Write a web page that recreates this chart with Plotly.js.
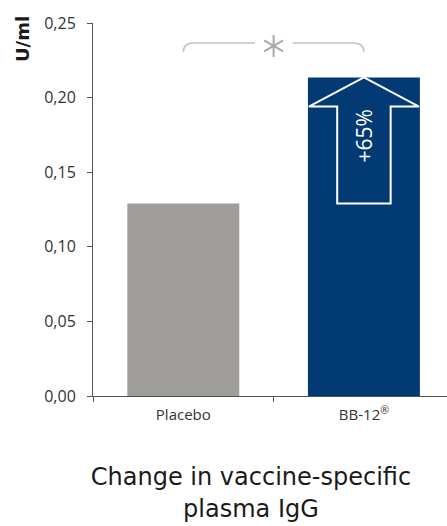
<!DOCTYPE html>
<html>
<head>
<meta charset="utf-8">
<script src="https://cdn.plot.ly/plotly-3.0.1.min.js"></script>
<style>html,body{margin:0;padding:0;background:#fff;}#chart{width:447px;height:526px;}</style>
</head>
<body>
<div id="chart"></div>
<script>
// Data
const categories = ['Placebo', 'BB-12®'];
const tickLabels = ['Placebo', 'BB-12<sup>®</sup>'];
const values = [0.129, 0.2135];
const barColors = ['#9e9d99', '#023a74'];
const changeLabel = '+65%';
const yTitle = 'U/ml';
const chartTitle = 'Change in vaccine-specific<br>plasma IgG';

const placebo = values[0], treat = values[1];
const iT = 1; // index of treatment category
const barW = 0.62;

// Arrow geometry derived from data values
const headBase = treat - 0.0195;
const shaftHalf = 0.148, wingHalf = barW / 2 - 0.005;
const arrowPath = 'M ' + (iT - shaftHalf) + ',' + placebo +
  ' L ' + (iT - shaftHalf) + ',' + headBase +
  ' L ' + (iT - wingHalf) + ',' + headBase +
  ' L ' + iT + ',' + treat +
  ' L ' + (iT + wingHalf) + ',' + headBase +
  ' L ' + (iT + shaftHalf) + ',' + headBase +
  ' L ' + (iT + shaftHalf) + ',' + placebo + ' Z';

const bY = 0.2366, bYend = 0.2306;
const bracketPath = 'M 0,' + bYend + ' Q 0,' + bY + ' 0.06,' + bY + ' L 0.395,' + bY +
  ' M 0.605,' + bY + ' L 0.94,' + bY + ' Q 1,' + bY + ' 1,' + bYend;

const trace = {
  type: 'bar',
  x: categories,
  y: values,
  width: barW,
  marker: {color: barColors, line: {width: 0}},
  hoverinfo: 'none'
};

const layout = {
  width: 447, height: 526,
  margin: {l: 93, r: 0, t: 23, b: 130, pad: 0},
  paper_bgcolor: '#ffffff', plot_bgcolor: '#ffffff',
  separators: ',.',
  showlegend: false,
  font: {family: 'Open Sans, sans-serif', color: '#333333'},
  title: {
    text: chartTitle,
    font: {family: 'DejaVu Sans, sans-serif', size: 24, color: '#1a1a1a'},
    xref: 'container', yref: 'container',
    x: 0.5615, y: 0.077, xanchor: 'center', yanchor: 'middle'
  },
  xaxis: {
    type: 'category',
    range: [-0.5, 1.46],
    tickvals: categories,
    ticktext: tickLabels,
    tickson: 'boundaries',
    ticks: 'outside', ticklen: 5, tickwidth: 1, tickcolor: '#555555',
    showline: true, linecolor: '#555555', linewidth: 1,
    showgrid: false, zeroline: false,
    tickfont: {family: 'Open Sans, sans-serif', size: 15, color: '#333333'},
    ticklabelstandoff: 5,
    fixedrange: true
  },
  yaxis: {
    range: [0, 0.25],
    tickvals: [0, 0.05, 0.10, 0.15, 0.20, 0.25],
    tickformat: '.2f',
    ticks: 'outside', ticklen: 5, tickwidth: 1, tickcolor: '#555555',
    showline: true, linecolor: '#555555', linewidth: 1,
    showgrid: false, zeroline: false,
    tickfont: {family: 'Open Sans, sans-serif', size: 16, color: '#333333'},
    ticklabelstandoff: 8,
    fixedrange: true
  },
  shapes: [
    {type: 'path', xref: 'x', yref: 'y', path: arrowPath,
     line: {color: '#ffffff', width: 2}, fillcolor: 'rgba(0,0,0,0)'},
    {type: 'path', xref: 'x', yref: 'y', path: bracketPath,
     line: {color: '#c2c2c2', width: 1.5}, fillcolor: 'rgba(0,0,0,0)'},
    {type: 'path', xref: 'x', yref: 'y', xsizemode: 'pixel', ysizemode: 'pixel',
     xanchor: 0.5, yanchor: 0.2346,
     path: 'M 0,-11 L 0,11 M -9.5,-5.5 L 9.5,5.5 M -9.5,5.5 L 9.5,-5.5',
     line: {color: '#a8a8a8', width: 2}}
  ],
  annotations: [
    {xref: 'x', yref: 'y', x: iT, y: (headBase + placebo) / 2 + 0.013,
     text: changeLabel, textangle: -90, showarrow: false,
     xanchor: 'center', yanchor: 'middle',
     font: {family: 'Open Sans, sans-serif', size: 21, color: '#ffffff'}},
    {xref: 'paper', yref: 'paper', x: -0.2006, y: 0.957,
     text: yTitle, textangle: -90, showarrow: false,
     xanchor: 'center', yanchor: 'middle',
     font: {family: 'DejaVu Sans, sans-serif', size: 18, color: '#1a1a1a', weight: 'bold'}}
  ]
};

Plotly.newPlot('chart', [trace], layout, {staticPlot: true, displayModeBar: false});
</script>
</body>
</html>
